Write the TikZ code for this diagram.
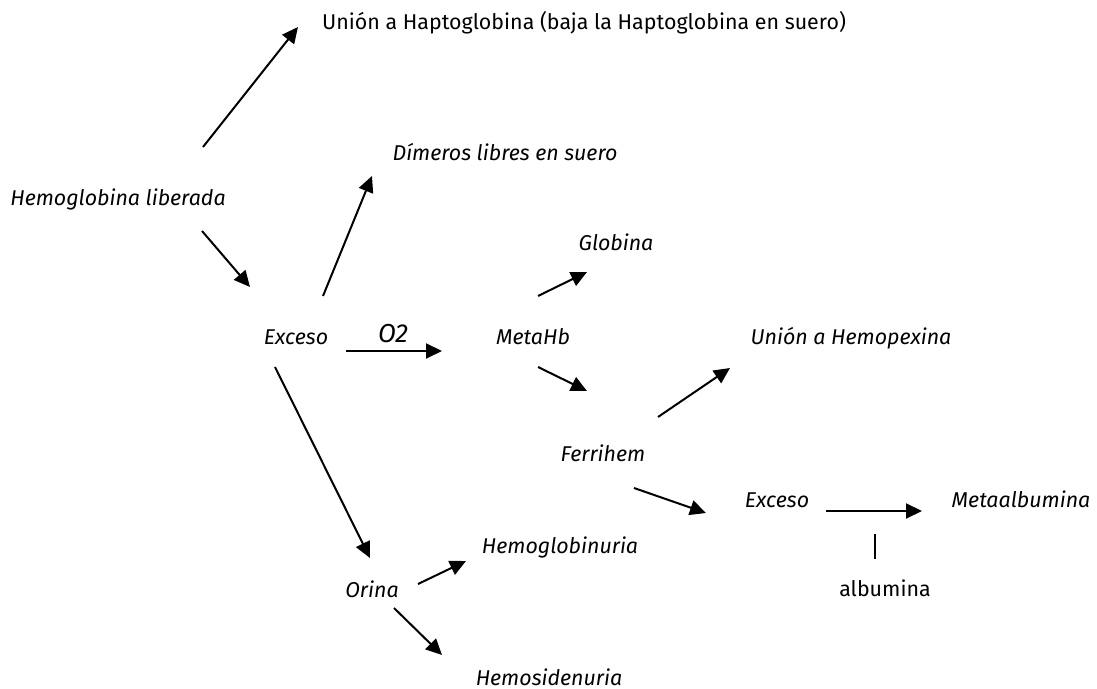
\documentclass[tikz,border=0pt]{standalone}
\usepackage{fontspec}
\setmainfont{Fira Sans}
\usetikzlibrary{arrows.meta}

\tikzset{
  lbl/.style={inner sep=0pt, anchor=base, font=\fontsize{10.7}{13}\selectfont\itshape},
  lblup/.style={inner sep=0pt, anchor=base, font=\fontsize{10.7}{13}\selectfont},
  flecha/.style={line width=1pt, -{Triangle[length=8pt,width=7.5pt]}},
}

\begin{document}
\begin{tikzpicture}[x=0.5pt, y=-0.5pt]
    \useasboundingbox (0,0) rectangle (1097,689);

    % textos
    \node[lblup] (hapto) at (584,30)  {Unión a Haptoglobina (baja la Haptoglobina en suero)};
    \node[lbl]   (dimer) at (505,161) {Dímeros libres en suero};
    \node[lbl]   (hlib)  at (118,206) {Hemoglobina liberada};
    \node[lbl]   (glob)  at (616,251) {Globina};
    \node[lbl]   (exc)   at (296,345) {Exceso};
    \node[lbl, font=\fontsize{13}{15}\selectfont\itshape] (otwo) at (393,343) {O2};
    \node[lbl]   (meta)  at (533,345) {MetaHb};
    \node[lbl]   (hpx)   at (851,345) {Unión a Hemopexina};
    \node[lbl]   (ferri) at (603,461) {Ferrihem};
    \node[lbl]   (exc2)  at (777,507) {Exceso};
    \node[lbl]   (malb)  at (1021,507) {Metaalbumina};
    \node[lbl]   (hguria) at (560,553) {Hemoglobinuria};
    \node[lblup] (alb)   at (885,596) {albumina};
    \node[lbl]   (orina) at (372,597) {Orina};
    \node[lbl]   (hsid)  at (549,685) {Hemosidenuria};

    % extremos de las flechas
    \coordinate (hlibN) at (203,147);  \coordinate (haptoW) at (298,27);
    \coordinate (hlibS) at (202,231);  \coordinate (excN)   at (250,287);
    \coordinate (excNE) at (323,296);  \coordinate (dimerW) at (372,176);
    \coordinate (excE)  at (346,351);  \coordinate (metaW)  at (442,351);
    \coordinate (metaN) at (538,296);  \coordinate (globW)  at (587,272);
    \coordinate (metaS) at (538,367);  \coordinate (ferriN) at (587,391);
    \coordinate (ferriNE) at (658,417); \coordinate (hpxW)  at (730,368);
    \coordinate (ferriSE) at (634,488); \coordinate (exc2W) at (706,513);
    \coordinate (exc2E) at (826,511);  \coordinate (malbW)  at (922,511);
    \coordinate (albN)  at (875,559);  \coordinate (albT)   at (875,534);
    \coordinate (excS)  at (275,367);  \coordinate (orinaN) at (370,558);
    \coordinate (orinaE) at (418,584); \coordinate (hguriaW) at (466,561);
    \coordinate (orinaS) at (394,608); \coordinate (hsidN)  at (442,655);

    % flechas
    \draw[flecha] (hlibN) -- (haptoW);
    \draw[flecha] (hlibS) -- (excN);
    \draw[flecha] (excNE) -- (dimerW);
    \draw[flecha] (excE) -- (metaW);
    \draw[flecha] (metaN) -- (globW);
    \draw[flecha] (metaS) -- (ferriN);
    \draw[flecha] (ferriNE) -- (hpxW);
    \draw[flecha] (ferriSE) -- (exc2W);
    \draw[flecha] (exc2E) -- (malbW);
    \draw[line width=0.8pt] (albN) -- (albT);
    \draw[flecha] (excS) -- (orinaN);
    \draw[flecha] (orinaE) -- (hguriaW);
    \draw[flecha] (orinaS) -- (hsidN);
\end{tikzpicture}
\end{document}
